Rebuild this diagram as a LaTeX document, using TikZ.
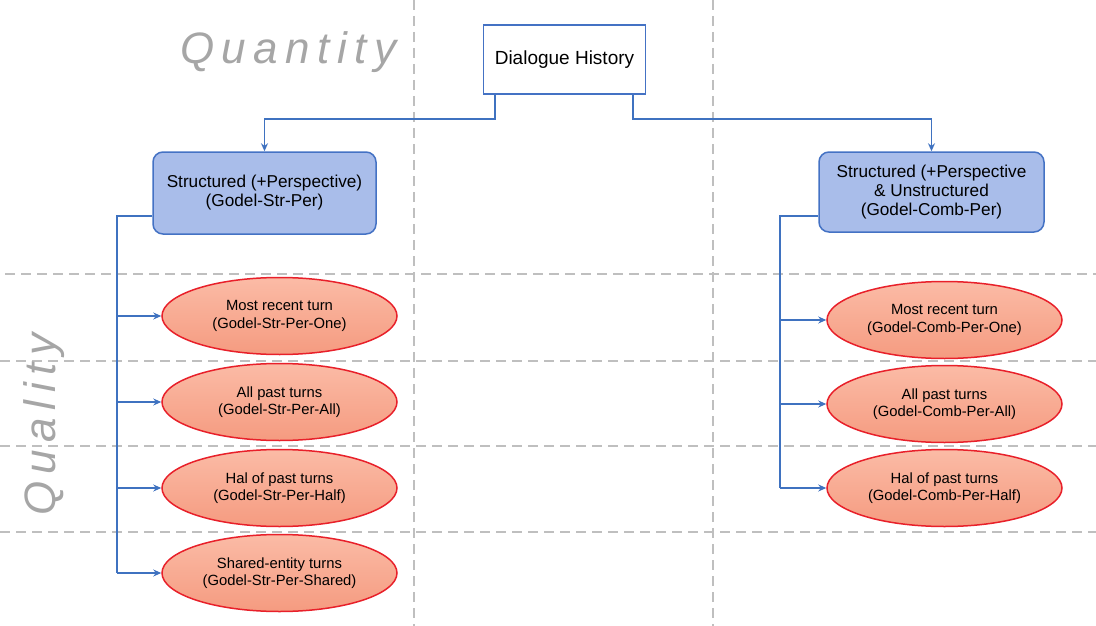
\documentclass[tikz,border=0pt]{standalone}
\usepackage{fontspec}
\setmainfont{Liberation Sans}
\newfontfamily\spacedfont[LetterSpace=17]{Liberation Sans}
\usetikzlibrary{arrows.meta,shapes.geometric}
\definecolor{gridgray}{HTML}{BFBFBF}
\definecolor{labgray}{HTML}{A6A6A6}
\definecolor{connblue}{HTML}{3F72C0}
\definecolor{boxfill}{HTML}{A9BDEA}
\definecolor{boxline}{HTML}{4472C4}
\definecolor{elltop}{HTML}{FBBBA6}
\definecolor{ellbot}{HTML}{F59B80}
\definecolor{ellline}{HTML}{E8202A}
\tikzset{
  grid/.style={draw=gridgray, line width=2pt, dash pattern=on 10pt off 6pt},
  conn/.style={draw=connblue, line width=1.5pt},
  arr/.style={conn, -{Stealth[length=8pt,width=7pt]}},
  rootbox/.style={draw=boxline, line width=1.5pt, fill=white, minimum width=162pt, minimum height=69pt, font=\fontsize{19}{22}\selectfont, inner sep=0pt},
  bluebox/.style={draw=boxline, line width=1.5pt, fill=boxfill, rounded corners=10pt, align=center, font=\fontsize{17.2}{19}\selectfont, inner sep=0pt},
  ell/.style={ellipse, draw=ellline, line width=1.5pt, top color=elltop, bottom color=ellbot, minimum width=235pt, minimum height=77pt, align=center, inner sep=0pt, font=\fontsize{14.8}{17.5}\selectfont},
  axlab/.style={text=labgray, font=\fontsize{44}{44}\selectfont\spacedfont\itshape, inner sep=0pt}
}
\begin{document}
\begin{tikzpicture}[x=1pt,y=-1pt]
\useasboundingbox (0,0) rectangle (1096,626);
% grid
\draw[grid] (414,0) -- (414,626);
\draw[grid] (713,0) -- (713,626);
\draw[grid] (5,274) -- (1096,274);
\draw[grid] (0,361) -- (1096,361);
\draw[grid] (0,446) -- (1096,446);
\draw[grid] (0,532) -- (1096,532);
% axis labels
\node[axlab, anchor=base west] (qn) at (180,64) {Quantity};
\node[axlab, anchor=base west, rotate=90] (ql) at (55,516) {Quality};
% nodes
\node[rootbox] (dh) at (564.5,59.5) {Dialogue History};
\node[bluebox, minimum width=223pt, minimum height=82pt] (lb) at (264.5,193) {Structured (+Perspective)\\(Godel-Str-Per)};
\node[bluebox, minimum width=225pt, minimum height=80pt] (rb) at (931.5,192) {Structured (+Perspective\\\& Unstructured\\(Godel-Comb-Per)};
\node[ell] (l1) at (279.5,316) {Most recent turn\\(Godel-Str-Per-One)};
\node[ell] (l2) at (279.5,402) {All past turns\\(Godel-Str-Per-All)};
\node[ell] (l3) at (279.5,488) {Hal of past turns\\(Godel-Str-Per-Half)};
\node[ell] (l4) at (279.5,573) {Shared-entity turns\\(Godel-Str-Per-Shared)};
\node[ell] (r1) at (944.5,320) {Most recent turn\\(Godel-Comb-Per-One)};
\node[ell] (r2) at (944.5,404) {All past turns\\(Godel-Comb-Per-All)};
\node[ell] (r3) at (944.5,488) {Hal of past turns\\(Godel-Comb-Per-Half)};
% connectors
\coordinate (dl) at (495,119);
\coordinate (dr) at (633,119);
\draw[arr] (dh.south -| dl) -- (dl) -| (lb.north);
\draw[arr] (dh.south -| dr) -- (dr) -| (rb.north);
\coordinate (lt) at (117,216);
\coordinate (lbot) at (117,573);
\draw[conn] (lb.west |- lt) -- (lt) -- (lbot);
\draw[arr] (lt |- l1.west) -- (l1.west);
\draw[arr] (lt |- l2.west) -- (l2.west);
\draw[arr] (lt |- l3.west) -- (l3.west);
\draw[arr] (lbot) -- (l4.west);
\coordinate (rt) at (780,216);
\coordinate (rbot) at (780,488);
\draw[conn] (rb.west |- rt) -- (rt) -- (rbot);
\draw[arr] (rt |- r1.west) -- (r1.west);
\draw[arr] (rt |- r2.west) -- (r2.west);
\draw[arr] (rbot) -- (r3.west);
\end{tikzpicture}
\end{document}
